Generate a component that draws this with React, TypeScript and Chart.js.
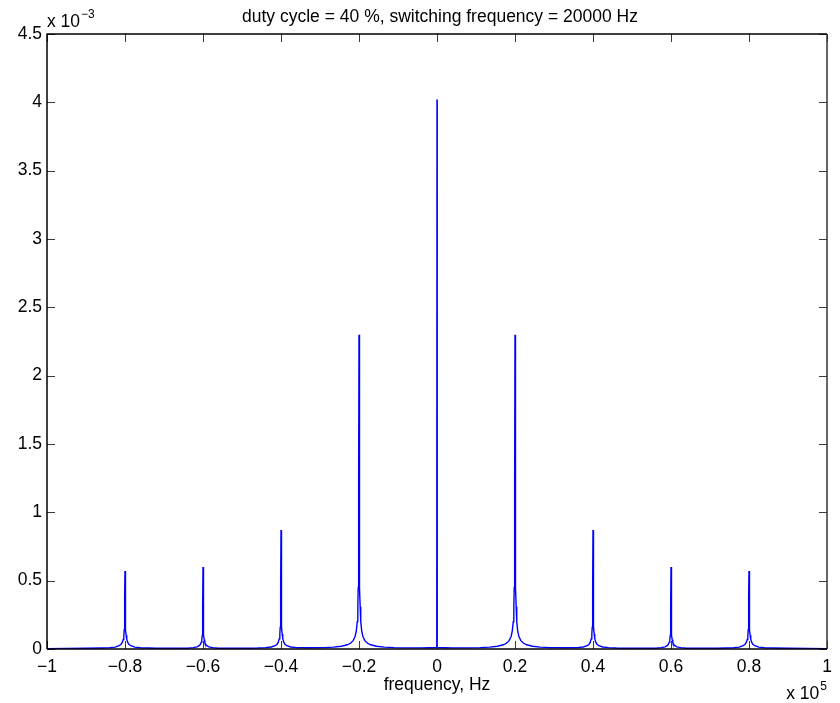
import React, { useEffect, useRef } from "react";
import { Chart, registerables } from "chart.js";

Chart.register(...registerables);

// Frequency axis in Hz, magnitude in units of 1e-3
const freqHz: number[] = [
  -100000, -95000, -90000, -86000,
  -84000, -82500, -81500, -81000, -80700, -80450, -80300, -80200, -80120, -80060,
  -80000,
  -79940, -79880, -79800, -79700, -79550, -79300, -79000, -78500, -77500, -76000,
  -72000, -68000,
  -64000, -62500, -61500, -61000, -60700, -60450, -60300, -60200, -60120, -60060,
  -60000,
  -59940, -59880, -59800, -59700, -59550, -59300, -59000, -58500, -57500, -56000,
  -52000, -48000,
  -46000, -44000, -42500, -41500, -41000, -40700, -40450, -40300, -40200, -40120, -40060,
  -40000,
  -39940, -39880, -39800, -39700, -39550, -39300, -39000, -38500, -37500, -36000,
  -33000, -30000,
  -29000, -26500, -24500, -23000, -22200, -21500, -21000, -20700, -20450, -20300, -20200, -20120, -20060,
  -20000,
  -19940, -19880, -19800, -19700, -19550, -19300, -19000, -18500, -17800, -17000, -15500, -13500, -11000,
  -8000, -4000, -2000, -500, -60,
  0,
  60, 500, 2000, 4000, 8000,
  11000, 13500, 15500, 17000, 17800, 18500, 19000, 19300, 19550, 19700, 19800, 19880, 19940,
  20000,
  20060, 20120, 20200, 20300, 20450, 20700, 21000, 21500, 22200, 23000, 24500, 26500, 29000,
  30000, 33000,
  36000, 37500, 38500, 39000, 39300, 39550, 39700, 39800, 39880, 39940,
  40000,
  40060, 40120, 40200, 40300, 40450, 40700, 41000, 41500, 42500, 44000, 46000,
  48000, 52000,
  56000, 57500, 58500, 59000, 59300, 59550, 59700, 59800, 59880, 59940,
  60000,
  60060, 60120, 60200, 60300, 60450, 60700, 61000, 61500, 62500, 64000,
  68000, 72000,
  76000, 77500, 78500, 79000, 79300, 79550, 79700, 79800, 79880, 79940,
  80000,
  80060, 80120, 80200, 80300, 80450, 80700, 81000, 81500, 82500, 84000,
  86000, 90000, 95000, 100000,
];

const magnitudeE3: number[] = [
  0.003, 0.004, 0.005, 0.007,
  0.009, 0.014, 0.024, 0.035, 0.048, 0.07, 0.10, 0.14, 0.22, 0.38,
  0.57,
  0.38, 0.22, 0.14, 0.10, 0.07, 0.048, 0.035, 0.024, 0.014, 0.009,
  0.006, 0.005,
  0.006, 0.010, 0.016, 0.024, 0.033, 0.05, 0.07, 0.10, 0.16, 0.30,
  0.60,
  0.30, 0.16, 0.10, 0.07, 0.05, 0.033, 0.024, 0.016, 0.010, 0.006,
  0.005, 0.006,
  0.007, 0.010, 0.015, 0.024, 0.035, 0.05, 0.075, 0.11, 0.16, 0.25, 0.45,
  0.87,
  0.45, 0.25, 0.16, 0.11, 0.075, 0.05, 0.035, 0.024, 0.015, 0.010,
  0.009, 0.010,
  0.010, 0.014, 0.020, 0.031, 0.042, 0.061, 0.092, 0.13, 0.20, 0.31, 0.45, 0.70, 1.20,
  2.30,
  1.20, 0.70, 0.45, 0.31, 0.20, 0.13, 0.092, 0.061, 0.042, 0.031, 0.020, 0.014, 0.010,
  0.008, 0.008, 0.009, 0.010, 0.012,
  4.02,
  0.012, 0.010, 0.009, 0.008, 0.008,
  0.010, 0.014, 0.020, 0.031, 0.042, 0.061, 0.092, 0.13, 0.20, 0.31, 0.45, 0.70, 1.20,
  2.30,
  1.20, 0.70, 0.45, 0.31, 0.20, 0.13, 0.092, 0.061, 0.042, 0.031, 0.020, 0.014, 0.010,
  0.010, 0.009,
  0.010, 0.015, 0.024, 0.035, 0.05, 0.075, 0.11, 0.16, 0.25, 0.45,
  0.87,
  0.45, 0.25, 0.16, 0.11, 0.075, 0.05, 0.035, 0.024, 0.015, 0.010, 0.007,
  0.006, 0.005,
  0.006, 0.010, 0.016, 0.024, 0.033, 0.05, 0.07, 0.10, 0.16, 0.30,
  0.60,
  0.30, 0.16, 0.10, 0.07, 0.05, 0.033, 0.024, 0.016, 0.010, 0.006,
  0.005, 0.006,
  0.009, 0.014, 0.024, 0.035, 0.048, 0.07, 0.10, 0.14, 0.22, 0.38,
  0.57,
  0.38, 0.22, 0.14, 0.10, 0.07, 0.048, 0.035, 0.024, 0.014, 0.009,
  0.007, 0.005, 0.004, 0.003,
];

const xTickValues: number[] = [-100000, -80000, -60000, -40000, -20000, 0, 20000, 40000, 60000, 80000, 100000];
const yTickValues: number[] = [0, 0.5, 1, 1.5, 2, 2.5, 3, 3.5, 4, 4.5];

const titleText = "duty cycle = 40 %, switching frequency = 20000 Hz";
const xTitleText = "frequency, Hz";

const FONT = "'Liberation Sans', Arial, Helvetica, sans-serif";
const FS = 17.5;

const fmt = (v: number) => String(v).replace("-", "\u2212");

export default function App() {
  const ref = useRef<HTMLCanvasElement | null>(null);

  useEffect(() => {
    if (!ref.current) return;

    const boxPlugin = {
      id: "matlabBox",
      beforeDatasetsDraw(chart: any) {
        const { ctx, chartArea: a } = chart;
        ctx.save();
        ctx.fillStyle = "#ffffff";
        ctx.fillRect(a.left, a.top, a.right - a.left, a.bottom - a.top);
        ctx.restore();
      },
      afterDatasetsDraw(chart: any) {
        const { ctx, chartArea: a, scales } = chart;
        const xs = scales.x;
        const ys = scales.y;
        ctx.save();
        // ticks (inward)
        ctx.strokeStyle = "#3a3a3a";
        ctx.lineWidth = 1;
        const tl = 8;
        for (const v of xTickValues) {
          const px = Math.round(xs.getPixelForValue(v)) + 0.5;
          ctx.beginPath();
          ctx.moveTo(px, a.bottom);
          ctx.lineTo(px, a.bottom - tl);
          ctx.moveTo(px, a.top);
          ctx.lineTo(px, a.top + tl);
          ctx.stroke();
        }
        for (const v of yTickValues) {
          const py = Math.round(ys.getPixelForValue(v)) + 0.5;
          ctx.beginPath();
          ctx.moveTo(a.left, py);
          ctx.lineTo(a.left + tl, py);
          ctx.moveTo(a.right, py);
          ctx.lineTo(a.right - tl, py);
          ctx.stroke();
        }
        // box
        ctx.strokeStyle = "#000000";
        ctx.lineWidth = 1.5;
        ctx.beginPath();
        ctx.moveTo(a.left, a.bottom);
        ctx.lineTo(a.left, a.top);
        ctx.lineTo(a.right, a.top);
        ctx.stroke();
        ctx.strokeStyle = "#333333";
        ctx.beginPath();
        ctx.moveTo(a.right, a.top);
        ctx.lineTo(a.right, a.bottom);
        ctx.stroke();
        ctx.strokeStyle = "#000000";
        ctx.beginPath();
        ctx.moveTo(a.left, a.bottom);
        ctx.lineTo(a.right, a.bottom);
        ctx.stroke();

        // texts
        ctx.fillStyle = "#000000";
        ctx.font = `${FS}px ${FONT}`;
        ctx.textAlign = "center";
        ctx.textBaseline = "alphabetic";
        ctx.fillText(titleText, (a.left + a.right) / 2 + 3, 22);
        ctx.fillText(xTitleText, (a.left + a.right) / 2, 690);

        // multipliers
        ctx.textAlign = "left";
        ctx.font = `${FS}px ${FONT}`;
        ctx.fillText("x 10", a.left, 27);
        const w1 = ctx.measureText("x 10").width;
        ctx.font = `${12}px ${FONT}`;
        ctx.fillText("\u22123", a.left + w1 + 1, 18);

        ctx.font = `${FS}px ${FONT}`;
        const base = "x 10";
        const wb = ctx.measureText(base).width;
        ctx.font = `${12}px ${FONT}`;
        const ws = ctx.measureText("5").width;
        const startX = a.right - wb - ws - 1;
        ctx.font = `${FS}px ${FONT}`;
        ctx.fillText(base, startX, 699);
        ctx.font = `${12}px ${FONT}`;
        ctx.fillText("5", startX + wb + 1, 690);
        ctx.restore();
      },
    };

    const points = freqHz.map((f, i) => ({ x: f, y: magnitudeE3[i] }));

    const chart = new Chart(ref.current, {
      type: "line",
      data: {
        datasets: [
          {
            data: points,
            borderColor: "#0000ff",
            borderWidth: 1.4,
            pointRadius: 0,
            tension: 0,
            fill: false,
          },
        ],
      },
      options: {
        animation: false,
        responsive: false,
        events: [],
        layout: { padding: { top: 34, right: 13, left: 0, bottom: 0 } },
        plugins: {
          legend: { display: false },
          title: { display: false },
          tooltip: { enabled: false },
        },
        scales: {
          x: {
            type: "linear",
            min: -100000,
            max: 100000,
            afterBuildTicks: (s: any) => {
              s.ticks = xTickValues.map((v) => ({ value: v }));
            },
            afterFit: (s: any) => {
              s.height = 54;
            },
            grid: { display: false, drawTicks: false },
            border: { display: false },
            ticks: {
              autoSkip: false,
              maxRotation: 0,
              padding: 8,
              color: "#000000",
              font: { family: FONT, size: FS },
              callback: (v: any) => fmt(Math.round(Number(v) / 1e4) / 10),
            },
          },
          y: {
            type: "linear",
            min: 0,
            max: 4.5,
            afterBuildTicks: (s: any) => {
              s.ticks = yTickValues.map((v) => ({ value: v }));
            },
            afterFit: (s: any) => {
              s.width = 47;
            },
            grid: { display: false, drawTicks: false },
            border: { display: false },
            ticks: {
              autoSkip: false,
              padding: 5,
              color: "#000000",
              font: { family: FONT, size: FS },
              callback: (v: any) => fmt(Math.round(Number(v) * 10) / 10),
            },
          },
        },
      },
      plugins: [boxPlugin],
    });

    return () => chart.destroy();
  }, []);

  return (
    <div style={{ position: "fixed", left: 0, top: 0, width: 840, height: 703, background: "#fff" }}>
      <canvas ref={ref} width={840} height={703} style={{ width: 840, height: 703, display: "block" }} />
    </div>
  );
}
